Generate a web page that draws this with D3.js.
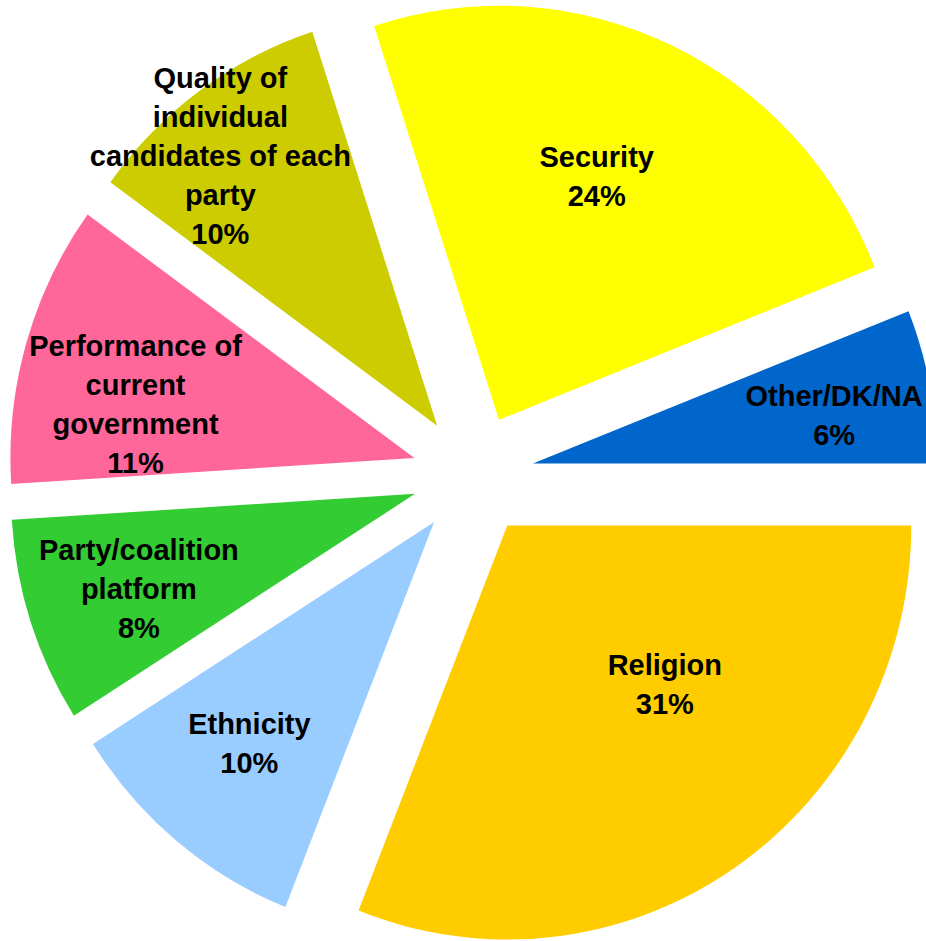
<!DOCTYPE html>
<html>
<head>
<meta charset="utf-8">
<script src="https://cdn.jsdelivr.net/npm/d3@7"></script>
<style>
  body { margin: 0; background: #fff; }
  svg { display: block; }
  text { font-family: "Liberation Sans", Arial, sans-serif; font-weight: bold; fill: #000; }
</style>
</head>
<body>
<div id="chart"></div>
<script>
const width = 926;
const height = 941;

// data
const categories = ["Security", "Other/DK/NA", "Religion", "Ethnicity",
    "Party/coalition platform", "Performance of current government",
    "Quality of individual candidates of each party"];
const values = [24, 6, 31, 10, 8, 11, 10];
const colors = ["#FFFF00", "#0066CC", "#FFCC00", "#99CCFF", "#33CC33", "#FF6699", "#CCCC00"];
// how the category names wrap in the labels
const labelLines = [
    ["Security"],
    ["Other/DK/NA"],
    ["Religion"],
    ["Ethnicity"],
    ["Party/coalition", "platform"],
    ["Performance of", "current", "government"],
    ["Quality of", "individual", "candidates of each", "party"]
];

// layout
const cx = 473, cy = 475;
const radius = 404;
const stretchY = 1.025;     // plot area is a bit taller than wide
const explode = 61;
const startDeg = -18;
const lineH = 39;
// label placement: distance from slice tip and angle shift from the mid angle
const labelR = [262, 305, 224, 288, 292, 284, 346];
const labelShift = [-3.3, 1.7, -10.5, 0.3, -1, -5.3, -2.8];

const rad = Math.PI / 180;

function drawPie() {
    var svg = d3.select("#chart").append("svg")
        .attr("width", width)
        .attr("height", height);

    var pie = d3.pie()
        .sort(null)
        .value((d) => d.value)
        .startAngle(startDeg * rad)
        .endAngle((startDeg + 360) * rad);

    var rows = categories.map((c, i) => {
        return { name: c, value: values[i], color: colors[i], lines: labelLines[i], idx: i };
    });
    var arcs = pie(rows);

    var arc = d3.arc().innerRadius(0).outerRadius(radius);

    //slices, each pushed out along its middle angle
    var g = svg.append("g")
        .attr("transform", "translate(" + cx + "," + cy + ") scale(1," + stretchY + ")");
    g.selectAll("path")
        .data(arcs)
        .enter()
        .append("path")
        .attr("d", arc)
        .attr("fill", (d) => d.data.color)
        .attr("transform", (d) => {
            var m = (d.startAngle + d.endAngle) / 2;
            return "translate(" + (explode * Math.sin(m)) + "," + (-explode * Math.cos(m) / stretchY) + ")";
        });

    //labels: name lines then percent
    var labels = svg.selectAll("g.label")
        .data(arcs)
        .enter()
        .append("g")
        .attr("class", "label")
        .attr("transform", (d) => {
            var i = d.data.idx;
            var m = (d.startAngle + d.endAngle) / 2;
            var a = m + labelShift[i] * rad;
            var x = cx + explode * Math.sin(m) + labelR[i] * Math.sin(a);
            var y = cy - explode * Math.cos(m) - labelR[i] * Math.cos(a);
            return "translate(" + x + "," + y + ")";
        });

    labels.each(function(d) {
        var lines = d.data.lines.concat([Math.round(d.data.value) + "%"]);
        var top = -(lines.length - 1) * lineH / 2;
        d3.select(this).selectAll("text")
            .data(lines)
            .enter()
            .append("text")
            .attr("x", 0)
            .attr("y", (t, j) => top + j * lineH)
            .attr("dy", "0.35em")
            .attr("text-anchor", "middle")
            .style("font-size", "29px")
            .text((t) => t);
    });
}

drawPie();
</script>
</body>
</html>
